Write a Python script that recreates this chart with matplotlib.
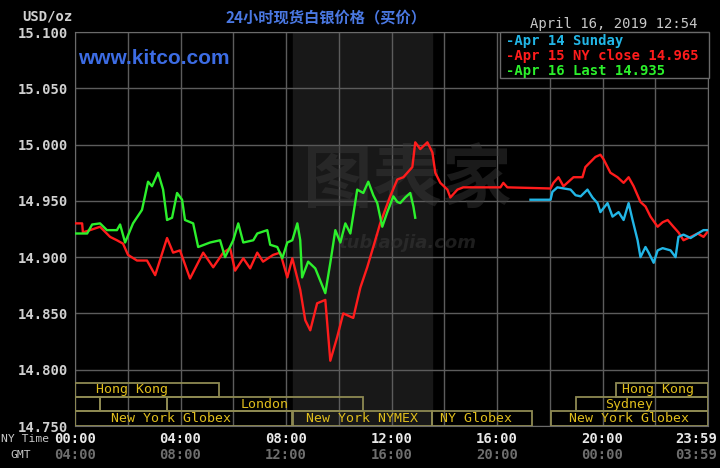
import matplotlib
matplotlib.use("Agg")
import matplotlib.pyplot as plt
from matplotlib.patches import Rectangle
import matplotlib.transforms as mtransforms

# hours since 00:00 NY time, price in USD/oz
red_t = [0.00, 0.27, 0.30, 0.57, 0.95, 1.33, 1.59, 1.82, 2.01, 2.35, 2.73, 3.04, 3.49, 3.72,
         3.98, 4.36, 4.86, 5.24, 5.62, 5.88, 6.07, 6.38, 6.64, 6.91, 7.13, 7.51, 7.78, 8.05,
         8.24, 8.54, 8.73, 8.92, 9.18, 9.49, 9.68, 9.94, 10.17, 10.55, 10.82, 11.08, 11.46,
         11.57, 11.95, 12.22, 12.45, 12.79, 12.90, 13.09, 13.36, 13.55, 13.66, 13.85, 14.12,
         14.23, 14.50, 14.72, 15.37, 16.13, 16.24, 16.39, 18.03, 18.14, 18.33, 18.52, 18.71,
         18.90, 19.24, 19.35, 19.73, 19.92, 20.04, 20.30, 20.57, 20.80, 20.99, 21.18, 21.44,
         21.63, 21.82, 22.09, 22.28, 22.47, 22.69, 22.88, 23.07, 23.34, 23.61, 23.83, 24.00]
red_v = [14.930, 14.930, 14.922, 14.924, 14.927, 14.918, 14.915, 14.912, 14.902, 14.897,
         14.897, 14.884, 14.917, 14.904, 14.906, 14.881, 14.904, 14.891, 14.904, 14.908,
         14.888, 14.899, 14.890, 14.904, 14.896, 14.902, 14.904, 14.882, 14.899, 14.871,
         14.844, 14.835, 14.859, 14.862, 14.808, 14.829, 14.850, 14.846, 14.873, 14.891,
         14.921, 14.930, 14.954, 14.969, 14.971, 14.980, 15.002, 14.996, 15.002, 14.993,
         14.975, 14.966, 14.960, 14.953, 14.960, 14.962, 14.962, 14.962, 14.966, 14.962,
         14.961, 14.966, 14.971, 14.963, 14.967, 14.971, 14.971, 14.980, 14.989, 14.991,
         14.987, 14.975, 14.971, 14.966, 14.971, 14.963, 14.949, 14.945, 14.936, 14.927,
         14.931, 14.933, 14.927, 14.922, 14.915, 14.918, 14.921, 14.918, 14.923]

green_t = [0.00, 0.46, 0.65, 0.95, 1.21, 1.59, 1.71, 1.90, 2.20, 2.54, 2.77, 2.92, 3.15, 3.34,
           3.49, 3.68, 3.87, 4.06, 4.17, 4.48, 4.67, 5.12, 5.50, 5.69, 6.00, 6.19, 6.38, 6.76,
           6.91, 7.29, 7.40, 7.67, 7.86, 8.05, 8.24, 8.43, 8.54, 8.61, 8.84, 9.11, 9.30, 9.49,
           9.68, 9.87, 10.06, 10.25, 10.44, 10.70, 10.93, 11.12, 11.31, 11.46, 11.65, 11.84,
           12.07, 12.22, 12.33, 12.52, 12.71, 12.83, 12.90]
green_v = [14.921, 14.921, 14.929, 14.930, 14.924, 14.924, 14.929, 14.913, 14.930, 14.942,
           14.967, 14.963, 14.975, 14.960, 14.933, 14.935, 14.957, 14.951, 14.933, 14.930,
           14.909, 14.913, 14.915, 14.900, 14.915, 14.930, 14.913, 14.915, 14.921, 14.924,
           14.911, 14.909, 14.899, 14.913, 14.915, 14.930, 14.915, 14.882, 14.896, 14.890,
           14.879, 14.868, 14.895, 14.924, 14.913, 14.930, 14.921, 14.960, 14.957, 14.967,
           14.955, 14.948, 14.927, 14.940, 14.954, 14.949, 14.948, 14.953, 14.957, 14.945,
           14.935]

cyan_t = [17.27, 18.03, 18.10, 18.29, 18.79, 18.98, 19.17, 19.43, 19.62, 19.81, 19.92, 20.19,
          20.38, 20.61, 20.80, 20.99, 21.14, 21.33, 21.44, 21.63, 21.75, 21.94, 22.09, 22.28,
          22.58, 22.77, 22.88, 23.07, 23.34, 23.61, 23.83, 24.00]
cyan_v = [14.951, 14.951, 14.958, 14.962, 14.960, 14.955, 14.954, 14.960, 14.953, 14.948,
          14.940, 14.948, 14.936, 14.940, 14.933, 14.948, 14.933, 14.915, 14.900, 14.909,
          14.904, 14.895, 14.906, 14.908, 14.906, 14.900, 14.918, 14.920, 14.917, 14.921,
          14.924, 14.924]

legend_labels = ["Apr 14 Sunday", "Apr 15 NY close 14.965", "Apr 16 Last 14.935"]
ny_ticks = [0, 4, 8, 12, 16, 20, 24]
ny_labels = ["00:00", "04:00", "08:00", "12:00", "16:00", "20:00", "23:59"]
gmt_labels = ["04:00", "08:00", "12:00", "16:00", "20:00", "00:00", "03:59"]
y_ticks = [14.75, 14.80, 14.85, 14.90, 14.95, 15.00, 15.05, 15.10]

# trading sessions: name, row (0 = top), start, end, label centre
sessions = [
    ("Hong Kong", 0, 0.0, 5.47, 2.15),
    ("Hong Kong", 0, 20.5, 24.0, 22.1),
    ("", 1, 0.0, 0.95, 0),
    ("", 1, 0.95, 3.49, 0),
    ("London", 1, 3.49, 10.93, 7.2),
    ("Sydney", 1, 19.0, 24.0, 21.0),
    ("New York Globex", 2, 0.0, 8.22, 3.65),
    ("New York NYMEX", 2, 8.27, 13.55, 10.9),
    ("NY Globex", 2, 13.55, 17.34, 15.2),
    ("New York Globex", 2, 18.05, 24.0, 21.0),
]
nymex_span = (8.27, 13.55)

red_c = "#ff1c1c"
green_c = "#2cf02c"
cyan_c = "#22b6e6"
mono = "DejaVu Sans Mono"

fig = plt.figure(figsize=(7.2, 4.68), dpi=100, facecolor="black")
ax = fig.add_axes([75 / 720, 1 - 426 / 468, 633 / 720, 394 / 468])
ax.set_facecolor("black")
ax.set_xlim(0, 24)
ax.set_ylim(14.75, 15.10)

ax.axvspan(*nymex_span, color="#181818", zorder=0)
ax.set_xticks(range(0, 25, 2))
ax.set_yticks(y_ticks)
ax.grid(True, color="#5c5c5c", lw=1, zorder=1)
ax.set_axisbelow(True)
ax.set_xticklabels([])
ax.set_yticklabels(["%.3f" % v for v in y_ticks], color="#d0d0d0",
                   fontfamily=mono, fontweight="bold", fontsize=10)
ax.tick_params(length=0, pad=5)
for s in ax.spines.values():
    s.set_color("#6a6a6a")

# watermark
ax.text(0.525, 0.62, "图表家", transform=ax.transAxes, ha="center", va="center",
        fontsize=50, color="#3a3a3a", alpha=0.45, fontfamily="Noto Sans CJK SC",
        fontweight="bold", zorder=1.5)
ax.text(0.525, 0.465, "tubiaojia.com", transform=ax.transAxes, ha="center", va="center",
        fontsize=13, color="#3a3a3a", alpha=0.5, fontweight="bold", style="italic",
        zorder=1.5)

ax.plot(red_t, red_v, color=red_c, lw=1.7, zorder=3)
ax.plot(cyan_t, cyan_v, color=cyan_c, lw=1.7, zorder=4)
ax.plot(green_t, green_v, color=green_c, lw=1.7, zorder=5)

# session boxes
row_h = 0.0127
for name, row, t0, t1, tx in sessions:
    y0 = 14.7884 - (row + 1) * row_h
    ax.add_patch(Rectangle((t0, y0), t1 - t0, row_h, fill=False,
                           ec="#8e8a52", lw=1.3, zorder=6))
    if name:
        ax.text(tx, y0 + row_h / 2, name, ha="center", va="center", fontsize=9.5,
                fontfamily=mono, color="#e0be1c", zorder=7)

# legend box
ax.add_patch(Rectangle((0.672, 0.883), 0.33, 0.117, transform=ax.transAxes,
                       fc="black", ec="#6a6a6a", lw=1, zorder=8, clip_on=False))
for i, (lab, c) in enumerate(zip(legend_labels, [cyan_c, red_c, green_c])):
    ax.text(0.681, 0.977 - i * 0.038, "-" + lab, transform=ax.transAxes, ha="left",
            va="center", fontsize=10, fontfamily=mono, fontweight="bold", color=c,
            zorder=9)

# time axis labels
trans = mtransforms.blended_transform_factory(ax.transData, fig.transFigure)
for h, ny, gmt in zip(ny_ticks, ny_labels, gmt_labels):
    x = min(h, 23.55)
    ax.text(x, 1 - 439 / 468, ny, transform=trans, ha="center", va="center",
            fontsize=10, fontfamily=mono, fontweight="bold", color="#e8e8e8")
    ax.text(x, 1 - 455 / 468, gmt, transform=trans, ha="center", va="center",
            fontsize=10, fontfamily=mono, fontweight="bold", color="#6e6e6e")
fig.text(1 / 720, 1 - 439 / 468, "NY Time", ha="left", va="center", fontsize=8.2,
         fontfamily=mono, color="#c8c8c8")
fig.text(21 / 720, 1 - 455 / 468, "GMT", ha="center", va="center", fontsize=8.2,
         fontfamily=mono, color="#c8c8c8")

fig.text(22 / 720, 1 - 16 / 468, "USD/oz", ha="left", va="center", fontsize=10,
         fontfamily=mono, fontweight="bold", color="#d0d0d0")
fig.text(326 / 720, 1 - 17 / 468, "24小时现货白银价格（买价）", ha="center", va="center",
         fontsize=11, fontfamily=["Noto Sans CJK SC", "DejaVu Sans"], fontweight="bold",
         color="#4a78e2")
fig.text(697 / 720, 1 - 24 / 468, "April 16, 2019 12:54", ha="right", va="center",
         fontsize=10, fontfamily=mono, color="#c8c8c8")
fig.text(78 / 720, 1 - 58 / 468, "www.kitco.com", ha="left", va="center", fontsize=15,
         fontfamily="Liberation Sans", fontweight="bold", color="#3c6ce4")

fig.savefig("out.png", dpi=100, facecolor="black")
